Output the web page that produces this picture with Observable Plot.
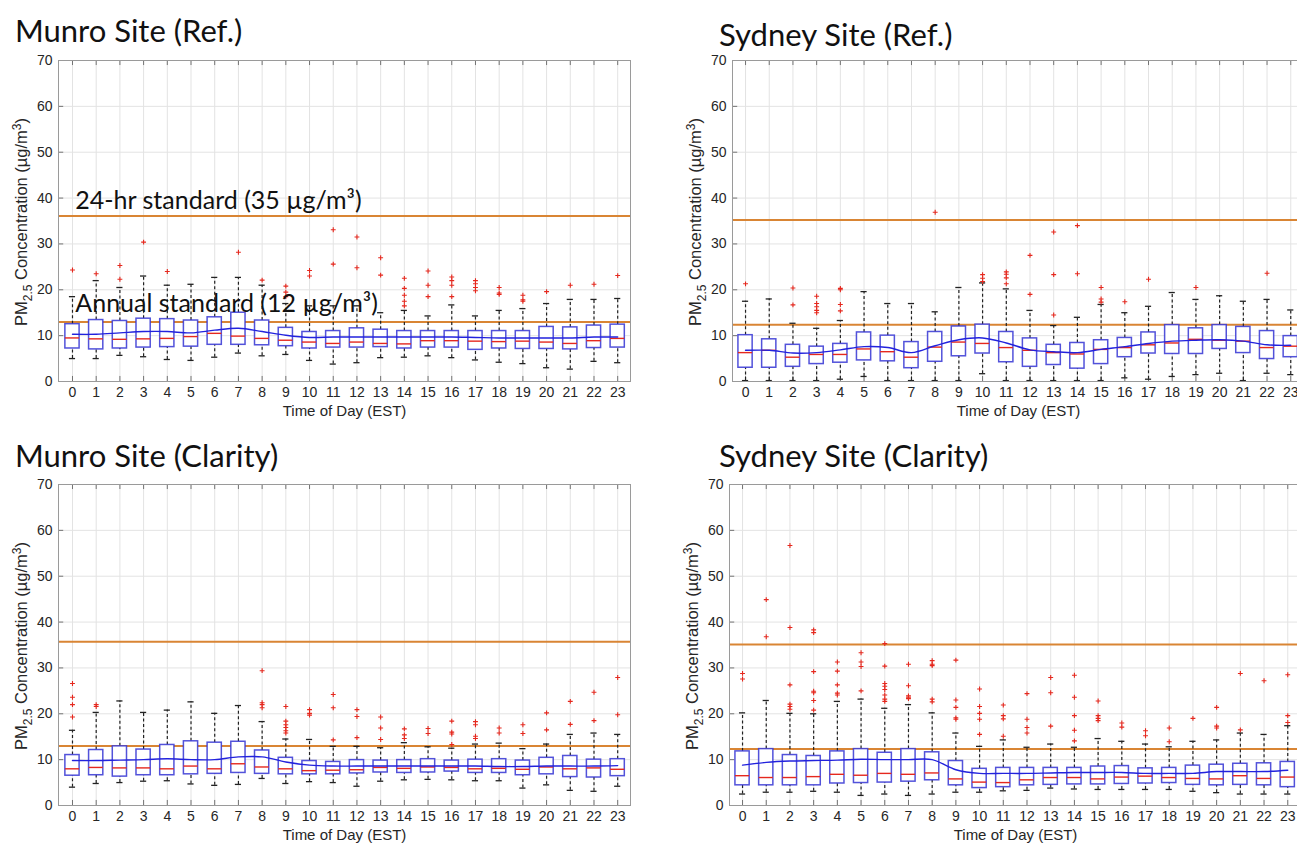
<!DOCTYPE html>
<html><head><meta charset="utf-8">
<script src="https://cdn.jsdelivr.net/npm/d3@7"></script>
<script src="https://cdn.jsdelivr.net/npm/@observablehq/plot@0.6"></script>
<style>
body{margin:0;background:#fff;}
#wrap{position:relative;width:1297px;height:844px;overflow:hidden;background:#fff;}
.panel{position:absolute;}
#overlay{position:absolute;left:0;top:0;pointer-events:none;}
</style></head><body><div id="wrap"></div>
<script>
const hours = d3.range(24);
const yTicks = [0, 10, 20, 30, 40, 50, 60, 70];
const panelTitles = ["Munro Site (Ref.)", "Sydney Site (Ref.)", "Munro Site (Clarity)", "Sydney Site (Clarity)"];
const xLabel = "Time of Day (EST)";
const label24hr = "24-hr standard (35 µg/m³)";
const labelAnnual = "Annual standard (12 µg/m³)";
// orange reference lines as drawn in each panel
const std24Lines = [36.1, 35.2, 35.7, 35.1];
const stdAnnualLines = [13.0, 12.4, 13.0, 12.3];

// ---- Munro Site (Ref.) ----
const munroRefQ1 = [7.2,7.0,7.2,7.4,7.5,7.6,8.0,8.0,7.9,7.7,7.2,7.4,7.4,7.5,7.2,7.4,7.4,6.9,7.2,7.1,7.1,7.0,7.3,7.4];
const munroRefMed = [9.5,9.3,9.2,9.3,9.4,9.8,10.5,9.9,9.4,9.0,8.6,8.3,8.6,8.3,8.2,8.9,8.9,8.8,8.7,8.8,8.6,8.3,8.9,9.4];
const munroRefQ3 = [12.5,13.4,13.2,13.7,13.6,13.3,14.0,15.0,13.3,11.7,10.8,11.0,11.6,11.3,11.0,11.0,11.0,11.0,11.0,11.0,11.9,11.8,12.2,12.4];
const munroRefLo = [5.0,5.0,5.7,5.4,4.8,4.6,5.3,6.2,5.6,5.9,4.6,3.8,4.1,5.2,5.3,5.6,5.2,4.7,4.2,3.9,3.0,2.7,4.4,4.1];
const munroRefHi = [18.5,22.0,20.5,23.0,21.0,21.2,22.7,22.7,21.0,17.0,16.5,16.5,16.5,15.0,15.5,14.3,16.7,14.3,15.5,15.9,17.0,17.9,17.9,18.1];
const munroRefMean = [10.3,10.3,10.6,10.9,10.9,10.6,11.2,11.6,10.9,10.1,9.6,9.7,9.7,9.7,9.7,9.7,9.7,9.6,9.5,9.5,9.5,9.5,9.7,9.7];
const munroRefOut = [[24.3],[23.5],[22.3,25.3],[30.4],[24.0],[],[],[28.2],[22.1],[18.5,19.5,20.8],[23.0,24.2],[25.6,33.1],[24.8,31.5],[23.2,27.0],[16.5,17.5,18.8,20.3,22.5],[18.5,21.0,24.1],[18.5,21.0,22.0,22.8],[19.8,20.5,21.3,22.0],[19.0,19.3,20.5],[17.5,17.8,18.8],[19.6],[21.0],[21.2],[23.1]];

// ---- Sydney Site (Ref.) ----
const sydneyRefQ1 = [3.0,3.0,3.2,3.8,4.1,4.6,4.4,2.9,4.3,5.5,6.1,4.2,3.2,3.6,2.8,3.8,5.3,6.1,6.0,6.0,7.1,6.2,4.9,5.3];
const sydneyRefMed = [6.3,6.8,5.3,5.9,5.9,7.1,6.5,5.3,7.5,8.6,8.3,7.4,6.8,6.3,6.0,7.0,7.4,8.0,8.4,9.2,9.0,8.8,7.4,7.7];
const sydneyRefQ3 = [10.1,9.2,8.0,7.6,8.2,10.7,10.0,8.6,10.8,12.0,12.4,10.8,9.4,8.0,8.4,9.0,9.5,10.7,12.3,11.6,12.3,11.9,11.0,9.9];
const sydneyRefLo = [0.2,0.2,0.2,0.2,0.5,1.1,0.2,0.2,0.2,0.2,1.7,0.2,0.2,0.2,0.2,0.2,0.8,0.5,1.1,1.5,1.8,0.2,1.8,1.5];
const sydneyRefHi = [17.5,18.0,12.7,11.6,13.3,19.6,17.0,17.0,15.2,20.5,21.5,20.2,15.5,12.2,14.0,16.8,15.0,16.4,19.4,17.9,18.7,17.5,17.9,15.6];
const sydneyRefMean = [6.8,6.8,6.2,6.3,6.9,7.6,7.4,6.3,7.8,9.1,9.5,8.4,6.9,6.5,6.3,7.0,7.6,8.3,8.8,9.0,9.1,8.8,8.0,7.9];
const sydneyRefOut = [[21.3],[],[16.7,20.4],[15.0,15.5,16.3,17.0,18.6],[15.4,16.8,20.0,20.3],[],[],[],[36.9],[],[21.8,22.5,23.3],[21.3,22.6,23.4,23.9],[19.0,27.5],[14.5,23.3,32.6],[23.5,34.0],[17.3,18.0,20.5],[17.4],[22.3],[],[20.5],[],[],[23.6],[]];

// ---- Munro Site (Clarity) ----
const munroClaQ1 = [6.5,6.6,6.3,6.6,6.6,6.8,6.9,7.1,6.9,6.8,6.8,6.8,7.0,7.2,7.1,7.2,7.4,7.1,7.1,6.6,6.8,6.2,6.1,6.4];
const munroClaMed = [8.0,8.3,8.2,8.2,8.0,8.6,8.0,9.1,8.4,8.0,7.6,7.7,7.8,8.3,8.1,8.4,8.3,8.0,8.1,7.9,8.4,8.0,8.2,7.9];
const munroClaQ3 = [11.0,12.1,12.9,12.2,13.2,14.0,13.7,13.9,12.0,10.4,9.7,9.5,9.9,9.8,9.9,10.1,9.8,10.0,10.1,9.8,10.4,10.8,10.0,10.1];
const munroClaLo = [4.0,4.8,5.0,5.3,5.4,4.7,4.4,4.6,5.9,4.8,5.2,5.0,4.2,5.3,5.6,5.7,5.6,5.4,5.4,3.8,4.5,3.3,3.1,4.2];
const munroClaHi = [16.4,20.3,22.8,20.3,20.8,22.6,20.1,21.8,18.3,14.5,14.4,12.9,12.9,12.6,13.7,12.8,12.5,13.4,13.6,12.4,13.4,15.5,15.8,15.5];
const munroClaMean = [9.8,9.8,9.9,10.0,10.2,10.0,10.0,10.6,10.6,9.5,8.8,8.6,8.6,8.6,8.6,8.6,8.6,8.6,8.5,8.5,8.6,8.6,8.6,8.7];
const munroClaOut = [[19.3,22.0,23.6,26.6],[21.6,22.0],[],[],[],[],[],[],[21.3,22.0,22.4,29.4],[15.8,16.3,17.0,17.6,18.4,21.6],[19.7,20.1,20.9],[14.3,21.3,24.2],[14.8,19.4,20.9],[14.4,16.9,19.3],[14.6,15.4,16.7],[15.7,16.8],[13.3,15.6,16.0,18.4],[14.6,15.1,17.6,18.3],[15.8,16.9],[15.7,17.6],[16.5,20.2],[17.7,22.7],[18.5,24.7],[19.8,27.9]];

// ---- Sydney Site (Clarity) ----
const sydneyClaQ1 = [4.4,4.4,4.4,4.4,4.8,4.9,5.0,5.2,5.5,4.4,3.8,4.0,4.4,4.5,4.6,4.6,4.7,4.8,4.9,4.5,4.4,4.5,4.4,4.0];
const sydneyClaMed = [6.5,6.1,6.1,6.3,6.8,6.6,7.0,6.8,7.1,5.8,5.1,5.0,5.6,6.1,6.1,5.8,6.2,6.4,6.1,5.9,5.8,6.5,5.9,6.2];
const sydneyClaQ3 = [11.8,12.3,11.0,10.8,11.8,12.3,11.5,12.3,11.6,9.7,8.0,8.2,8.2,8.2,8.2,8.5,8.6,8.1,8.2,8.7,8.9,9.1,9.2,9.5];
const sydneyClaLo = [2.5,2.9,2.9,3.1,2.9,2.2,2.5,2.2,2.5,2.9,2.9,3.2,3.3,3.8,3.6,3.5,3.5,3.5,3.5,3.1,2.8,2.5,2.5,2.5];
const sydneyClaHi = [20.2,22.9,20.1,20.0,22.7,23.2,21.2,22.0,20.2,15.8,12.9,14.3,12.7,13.4,12.7,14.6,14.0,13.4,12.8,14.0,14.3,15.8,15.5,17.4];
const sydneyClaMean = [8.8,9.4,9.7,9.8,9.9,10.1,10.0,10.0,10.0,7.8,7.0,7.0,7.0,7.1,7.2,7.2,7.2,7.0,7.0,7.0,7.4,7.4,7.4,7.7];
const sydneyClaOut = [[27.6,28.8],[36.8,44.9],[21.0,21.6,22.1,26.3,38.8,56.7],[20.8,22.9,24.6,24.9,29.2,37.7,38.3],[24.1,24.5,26.3,29.3,31.3],[25.0,30.3,31.3,33.3],[22.7,23.2,24.1,25.3,26.0,26.6,30.4,35.3],[23.3,23.6,23.9,26.1,30.8],[22.6,23.2,30.5,30.8,31.6],[18.8,19.1,21.4,23.0,31.7],[15.5,18.8,20.1,21.6,25.4],[15.1,18.9,19.6,21.9],[15.8,17.0,18.8,24.4],[17.3,24.6,27.9],[14.1,16.4,19.6,23.6,28.4],[18.5,19.0,19.6,22.8],[17.1,18.0],[15.2,16.3],[13.9,16.9],[19.0],[16.9,17.3,21.4],[16.5,28.8],[27.2],[18.1,19.6,28.5]];

const panels = [
  {q1: munroRefQ1, med: munroRefMed, q3: munroRefQ3, lo: munroRefLo, hi: munroRefHi, mean: munroRefMean, out: munroRefOut,
   left: 18, top: 50, domain: [-0.59, 23.54], annot: true},
  {q1: sydneyRefQ1, med: sydneyRefMed, q3: sydneyRefQ3, lo: sydneyRefLo, hi: sydneyRefHi, mean: sydneyRefMean, out: sydneyRefOut,
   left: 692, top: 50, domain: [-0.55, 23.58], annot: false},
  {q1: munroClaQ1, med: munroClaMed, q3: munroClaQ3, lo: munroClaLo, hi: munroClaHi, mean: munroClaMean, out: munroClaOut,
   left: 18, top: 474, domain: [-0.59, 23.54], annot: false},
  {q1: sydneyClaQ1, med: sydneyClaMed, q3: sydneyClaQ3, lo: sydneyClaLo, hi: sydneyClaHi, mean: sydneyClaMean, out: sydneyClaOut,
   left: 689, top: 474, domain: [-0.55, 23.58], annot: false}
];

const wrap = document.getElementById("wrap");
const BLUE = "#3434d4";
const RED = "#e5281e";
const ORANGE = "#d98534";
const HALF = 0.3, CAP = 0.13;
const AXFONT = "'Liberation Sans Narrow', 'Liberation Sans', Arial, sans-serif";
const TITLEFONT = "Lato, 'Noto Sans', sans-serif";

panels.forEach((p, k) => {
  const rows = hours.map((h, i) => ({h, q1: p.q1[i], med: p.med[i], q3: p.q3[i], lo: p.lo[i], hi: p.hi[i], mean: p.mean[i]}));
  const outs = p.out.flatMap((arr, i) => arr.map(v => ({h: i, v})));
  const x0 = p.domain[0];
  const marks = [
    Plot.gridX(hours, {stroke: "#e3e3e3", strokeOpacity: 1}),
    Plot.gridY(yTicks, {stroke: "#e3e3e3", strokeOpacity: 1}),
    // inward tick marks (bottom, top, left)
    Plot.ruleX(hours, {x: d => d, y1: 0, y2: 1.1, stroke: "#555", strokeWidth: 0.8}),
    Plot.ruleX(hours, {x: d => d, y1: 68.9, y2: 70, stroke: "#555", strokeWidth: 0.8}),
    Plot.ruleY(yTicks, {y: d => d, x1: x0, x2: x0 + 0.22, stroke: "#555", strokeWidth: 0.8}),
    Plot.ruleY([std24Lines[k]], {stroke: ORANGE, strokeWidth: 2}),
    Plot.ruleY([stdAnnualLines[k]], {stroke: ORANGE, strokeWidth: 2}),
    Plot.ruleX(rows, {x: "h", y1: "q3", y2: "hi", stroke: "#222", strokeWidth: 1.2, strokeDasharray: "3,2.5"}),
    Plot.ruleX(rows, {x: "h", y1: "lo", y2: "q1", stroke: "#222", strokeWidth: 1.2, strokeDasharray: "3,2.5"}),
    Plot.ruleY(rows, {y: "hi", x1: d => d.h - CAP, x2: d => d.h + CAP, stroke: "#222", strokeWidth: 1.3}),
    Plot.ruleY(rows, {y: "lo", x1: d => d.h - CAP, x2: d => d.h + CAP, stroke: "#222", strokeWidth: 1.3}),
    Plot.rect(rows, {x1: d => d.h - HALF, x2: d => d.h + HALF, y1: "q1", y2: "q3", fill: "white", stroke: BLUE, strokeWidth: 1.5, strokeOpacity: 0.85}),
    Plot.ruleY(rows, {y: "med", x1: d => d.h - HALF, x2: d => d.h + HALF, stroke: RED, strokeWidth: 1.4}),
    Plot.line(rows, {x: "h", y: "mean", stroke: "#2222dd", strokeWidth: 1.4, curve: "catmull-rom"}),
    Plot.dot(outs, {x: "h", y: "v", symbol: "plus", r: 1.7, stroke: RED, strokeWidth: 1.1}),
    Plot.frame({stroke: "#9a9a9a"}),
    Plot.axisX(hours, {tickSize: 0, tickPadding: 6, fontSize: 14, fontFamily: AXFONT, label: null}),
    Plot.axisY(yTicks, {tickSize: 0, tickPadding: 6, fontSize: 14, fontFamily: AXFONT, label: null}),
    Plot.text([xLabel], {frameAnchor: "bottom", dy: 34, text: d => d, fontSize: 15, fontFamily: AXFONT, fill: "#262626"})
  ];
  if (p.annot) {
    marks.push(Plot.text([label24hr], {x: 0.12, y: 39.3, text: d => d, textAnchor: "start", fontSize: 25, fontFamily: TITLEFONT, fill: "#111"}));
    marks.push(Plot.text([labelAnnual], {x: 0.12, y: 17.0, text: d => d, textAnchor: "start", fontSize: 25, fontFamily: TITLEFONT, fill: "#111"}));
  }
  const chart = Plot.plot({
    width: 622, height: 376,
    marginLeft: 40, marginRight: 10, marginTop: 10, marginBottom: 45,
    x: {domain: p.domain},
    y: {domain: [0, 70]},
    style: {fontFamily: AXFONT, fontSize: "14px", color: "#262626", background: "transparent", overflow: "visible"},
    marks
  });
  chart.classList.add("panel");
  chart.style.left = p.left + "px";
  chart.style.top = p.top + "px";
  wrap.appendChild(chart);
});

// titles and y-axis labels (with subscript / superscript)
const ns = "http://www.w3.org/2000/svg";
const ov = document.createElementNS(ns, "svg");
ov.setAttribute("id", "overlay");
ov.setAttribute("width", 1297);
ov.setAttribute("height", 844);
wrap.appendChild(ov);
const titlePos = [[15, 42], [719, 46], [15, 467], [719, 467]];
panelTitles.forEach((t, i) => {
  const el = document.createElementNS(ns, "text");
  el.setAttribute("x", titlePos[i][0]);
  el.setAttribute("y", titlePos[i][1]);
  el.setAttribute("font-family", TITLEFONT);
  el.setAttribute("font-size", 31);
  el.setAttribute("fill", "#111");
  el.textContent = t;
  ov.appendChild(el);
});
const ylabPos = [[27, 222], [701, 222], [27, 646], [698, 646]];
ylabPos.forEach(([x, y]) => {
  const el = document.createElementNS(ns, "text");
  el.setAttribute("transform", `translate(${x},${y}) rotate(-90)`);
  el.setAttribute("text-anchor", "middle");
  el.setAttribute("font-family", "'Liberation Sans', Arial, sans-serif");
  el.setAttribute("font-size", 16.5);
  el.setAttribute("fill", "#262626");
  const parts = [["PM", 0, 16.5], ["2.5", -5, 12], [" Concentration (µg/m", 0, 16.5], ["3", 6, 12], [")", 0, 16.5]];
  let prev = 0;
  parts.forEach(([s, shift, fs]) => {
    const ts = document.createElementNS(ns, "tspan");
    ts.setAttribute("dy", -(shift - prev));
    ts.setAttribute("font-size", fs);
    ts.textContent = s;
    prev = shift;
    el.appendChild(ts);
  });
  ov.appendChild(el);
});
</script></body></html>
